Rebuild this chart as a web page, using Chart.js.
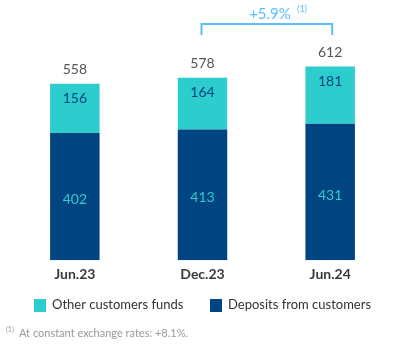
<!DOCTYPE html>
<html>
<head>
<meta charset="utf-8">
<script src="https://cdn.jsdelivr.net/npm/chart.js@4"></script>
<style>
  html, body { margin: 0; padding: 0; background: #fff; overflow: hidden; }
  #myChart { display: block; }
</style>
</head>
<body>
<canvas id="myChart" width="394" height="344"></canvas>
<script>
const periods = ['Jun.23', 'Dec.23', 'Jun.24'];
const deposits = [402, 413, 431];
const otherFunds = [156, 164, 181];
const totals = [558, 578, 612];
const growthLabel = '+5.9%';
const footnote = 'At constant exchange rates: +8.1%.';

const NAVY = '#004481';
const CYAN = '#2DCCCD';
const LIGHTBLUE = '#5BBEFF';
const FONT = 'Lato, "Noto Sans", sans-serif';

// numbers above and inside the stacked bars, the bracket, legend and footnote
const labelsPlugin = {
  id: 'labels',
  afterDatasetsDraw(chart) {
    const c = chart.ctx;
    const depMeta = chart.getDatasetMeta(0);
    const othMeta = chart.getDatasetMeta(1);
    c.save();
    c.textAlign = 'center';
    c.textBaseline = 'middle';
    periods.forEach((p, i) => {
      const dep = depMeta.data[i];
      const oth = othMeta.data[i];
      c.font = '14px ' + FONT;
      c.fillStyle = CYAN;
      c.fillText(deposits[i], dep.x, (dep.y + dep.base) / 2 + 3);
      c.fillStyle = NAVY;
      c.fillText(otherFunds[i], oth.x, oth.y + 15);
      c.fillStyle = '#555';
      c.fillText(totals[i], oth.x, oth.y - 14);
    });

    // bracket between Dec.23 and Jun.24
    const x1 = othMeta.data[1].x - 1;
    const x2 = othMeta.data[2].x + 2;
    c.strokeStyle = LIGHTBLUE;
    c.lineWidth = 2;
    c.beginPath();
    c.moveTo(x1, 35);
    c.lineTo(x1, 24);
    c.lineTo(x2, 24);
    c.lineTo(x2, 35);
    c.stroke();
    c.fillStyle = LIGHTBLUE;
    c.font = '15px ' + FONT;
    c.fillText(growthLabel, 270, 14);
    c.font = '9px ' + FONT;
    c.fillText('(1)', 302, 9);

    // legend, other funds first
    c.textAlign = 'left';
    const items = [
      { text: chart.data.datasets[1].label, color: CYAN, x: 34 },
      { text: chart.data.datasets[0].label, color: NAVY, x: 210 }
    ];
    c.font = '13px ' + FONT;
    items.forEach(it => {
      c.fillStyle = it.color;
      c.fillRect(it.x, 299, 12, 13);
      c.fillStyle = '#333';
      c.fillText(it.text, it.x + 18, 305);
    });

    // footnote
    c.fillStyle = '#999';
    c.font = '7px ' + FONT;
    c.fillText('(1)', 6, 330);
    c.font = '11px ' + FONT;
    c.fillText(footnote, 19, 333);
    c.restore();
  }
};

const ctx = document.getElementById('myChart');

new Chart(ctx, {
  type: 'bar',
  data: {
    labels: periods,
    datasets: [
      {
        label: 'Deposits from customers',
        data: deposits,
        backgroundColor: NAVY,
        categoryPercentage: 1,
        barPercentage: 50 / 129
      },
      {
        label: 'Other customers funds',
        data: otherFunds,
        backgroundColor: CYAN,
        categoryPercentage: 1,
        barPercentage: 50 / 129
      }
    ]
  },
  options: {
    responsive: false,
    animation: false,
    layout: { padding: { left: 11, right: -3, top: 40, bottom: 55 } },
    scales: {
      x: {
        stacked: true,
        grid: { display: false, drawTicks: false },
        border: { display: false },
        ticks: {
          color: '#3a3a3a',
          padding: 6,
          font: { family: FONT, size: 14, weight: 'bold' }
        }
      },
      y: {
        stacked: true,
        display: false,
        min: 0,
        max: 696
      }
    },
    plugins: {
      tooltip: { enabled: false },
      legend: { display: false }
    }
  },
  plugins: [labelsPlugin]
});
</script>
</body>
</html>
